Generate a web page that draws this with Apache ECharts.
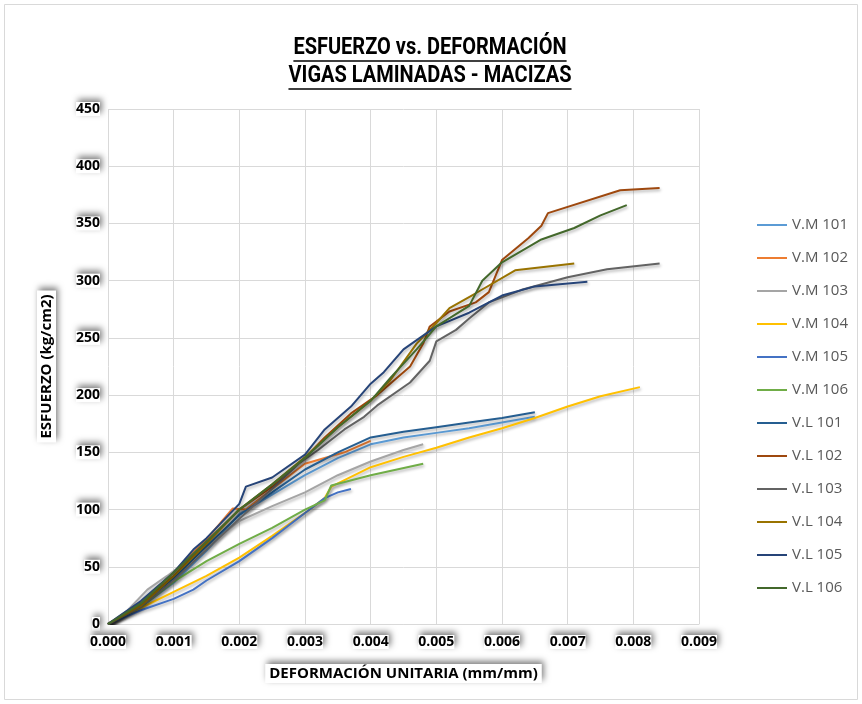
<!DOCTYPE html>
<html>
<head>
<meta charset="utf-8">
<script src="https://cdn.jsdelivr.net/npm/echarts@6/dist/echarts.min.js"></script>
<style>
html, body { margin: 0; padding: 0; background: #fff; }
#chart { width: 862px; height: 704px; }
</style>
</head>
<body>
<div id="chart"></div>
<script>
// esfuerzo (kg/cm2) vs deformacion unitaria (mm/mm)
var seriesNames = ['V.M 101', 'V.M 102', 'V.M 103', 'V.M 104', 'V.M 105', 'V.M 106',
                   'V.L 101', 'V.L 102', 'V.L 103', 'V.L 104', 'V.L 105', 'V.L 106'];
var colors = ['#5B9BD5', '#ED7D31', '#A5A5A5', '#FFC000', '#4472C4', '#70AD47',
              '#255E91', '#9E480E', '#636363', '#997300', '#264478', '#43682B'];

var vm101 = [[0,0],[0.0005,15],[0.001,36],[0.0015,64],[0.002,96],[0.0025,113],[0.003,130],[0.0035,145],[0.004,157],[0.0045,163],[0.005,167],[0.0055,171],[0.006,176],[0.0065,181]];
var vm102 = [[0,0],[0.0005,18],[0.001,45],[0.0015,74],[0.0019,101],[0.0021,100],[0.0025,118],[0.003,140],[0.0033,145],[0.0036,150],[0.004,160]];
var vm103 = [[0,0],[0.0003,12],[0.0006,30],[0.0009,42],[0.0012,55],[0.0016,72],[0.002,90],[0.0025,103],[0.003,115],[0.0035,130],[0.004,142],[0.0045,152],[0.0048,157]];
var vm104 = [[0,0],[0.0005,14],[0.001,28],[0.0015,42],[0.002,58],[0.0025,77],[0.003,97],[0.0033,110],[0.0034,120],[0.004,137],[0.0045,146],[0.005,154],[0.0055,163],[0.006,171],[0.0065,180],[0.007,190],[0.0075,199],[0.0081,207]];
var vm105 = [[0,0],[0.0005,12],[0.001,22],[0.0013,30],[0.0015,38],[0.002,55],[0.0025,75],[0.003,97],[0.0033,110],[0.0035,115],[0.0037,118]];
var vm106 = [[0,0],[0.0005,15],[0.001,37],[0.0015,55],[0.002,70],[0.0025,84],[0.003,100],[0.0033,108],[0.0034,121],[0.004,130],[0.0048,140]];
var vl101 = [[0,0],[0.0005,17],[0.001,40],[0.0015,68],[0.002,95],[0.0025,115],[0.003,135],[0.0035,150],[0.004,163],[0.0045,168],[0.005,172],[0.0055,176],[0.006,180],[0.0065,185]];
var vl102 = [[0,0],[0.0005,18],[0.001,42],[0.0015,72],[0.002,100],[0.0025,120],[0.003,145],[0.0033,163],[0.0037,184],[0.0041,200],[0.0046,225],[0.0048,245],[0.0049,260],[0.0052,273],[0.0056,281],[0.0058,290],[0.006,318],[0.0064,337],[0.0066,348],[0.0067,359],[0.0078,379],[0.0084,381]];
var vl103 = [[0,0],[0.0005,15],[0.001,38],[0.0015,65],[0.002,92],[0.0025,118],[0.0029,140],[0.0032,152],[0.0036,170],[0.0039,181],[0.0041,191],[0.0046,211],[0.0049,230],[0.005,247],[0.0053,257],[0.0055,267],[0.0058,281],[0.0063,292],[0.007,303],[0.0076,310],[0.0084,315]];
var vl104 = [[0,0],[0.0005,16],[0.001,42],[0.0015,70],[0.002,100],[0.0025,122],[0.003,146],[0.0035,172],[0.004,195],[0.0043,213],[0.0047,245],[0.005,263],[0.0052,276],[0.0056,289],[0.0062,309],[0.0071,315]];
var vl105 = [[0,0],[0.0005,20],[0.001,45],[0.0013,65],[0.0015,75],[0.002,105],[0.0021,120],[0.0025,128],[0.003,148],[0.0033,170],[0.0037,190],[0.004,210],[0.0042,220],[0.0045,240],[0.005,260],[0.0055,272],[0.006,287],[0.0065,295],[0.0073,299]];
var vl106 = [[0,0],[0.0005,18],[0.001,45],[0.0015,72],[0.002,100],[0.0025,122],[0.003,145],[0.0035,172],[0.004,195],[0.0043,215],[0.0047,240],[0.005,260],[0.0055,278],[0.0057,300],[0.006,316],[0.0066,336],[0.0071,346],[0.0075,357],[0.0079,366]];

var allData = [vm101, vm102, vm103, vm104, vm105, vm106, vl101, vl102, vl103, vl104, vl105, vl106];

var titleLines = ['ESFUERZO vs. DEFORMACIÓN', 'VIGAS LAMINADAS - MACIZAS'];
var titleFont = "bold 20px 'Roboto', sans-serif";
var lblFont = "'Open Sans', 'Liberation Sans', sans-serif";

var myChart = echarts.init(document.getElementById('chart'));

// titulo subrayado (echarts no subraya texto)
var ctx = document.createElement('canvas').getContext('2d');
ctx.font = titleFont;
var titleGraphics = [];
var titleY = [48, 76];
for (var t = 0; t < titleLines.length; t++) {
    var w = ctx.measureText(titleLines[t]).width;
    titleGraphics.push({
        type: 'text', x: 430, y: titleY[t], scaleY: 1.18,
        style: { text: titleLines[t], font: titleFont, fill: '#000', align: 'center', verticalAlign: 'middle' }
    });
    titleGraphics.push({
        type: 'line',
        shape: { x1: 430 - w / 2, y1: titleY[t] + 13, x2: 430 + w / 2, y2: titleY[t] + 13 },
        style: { stroke: '#000', lineWidth: 1.5 }
    });
}
titleGraphics.push({
    type: 'rect', shape: { x: 4.5, y: 4.5, width: 853, height: 695 },
    style: { fill: 'none', stroke: '#d9d9d9', lineWidth: 1 }, z: -1
});

var labelShadow = {
    backgroundColor: '#fff',
    shadowColor: 'rgba(0,0,0,0.5)',
    shadowBlur: 6,
    shadowOffsetX: 2,
    shadowOffsetY: -3
};

var series = [];
for (var i = 0; i < allData.length; i++) {
    series.push({
        name: seriesNames[i],
        type: 'line',
        data: allData[i],
        symbol: 'none',
        color: colors[i],
        lineStyle: {
            width: 2,
            shadowColor: 'rgba(0,0,0,0.3)',
            shadowBlur: 3,
            shadowOffsetX: 1,
            shadowOffsetY: 2
        },
        z: 2
    });
}

var option = {
    animation: false,
    graphic: titleGraphics,
    grid: { left: 108, right: 163, top: 109, bottom: 80 },
    legend: {
        orient: 'vertical',
        left: 752,
        top: 211,
        itemGap: 15,
        itemWidth: 30,
        itemHeight: 2,
        icon: 'rect',
        textStyle: { color: '#595959', fontSize: 15, fontFamily: lblFont, lineHeight: 18 }
    },
    xAxis: {
        type: 'value',
        min: 0, max: 0.009, interval: 0.001,
        name: 'DEFORMACIÓN UNITARIA (mm/mm)',
        nameLocation: 'middle',
        nameGap: 40,
        nameTextStyle: Object.assign({ color: '#000', fontWeight: 'bold', fontSize: 15, fontFamily: lblFont, padding: [2, 4] }, labelShadow),
        axisLine: { show: true, lineStyle: { color: '#d9d9d9' } },
        axisTick: { show: false },
        splitLine: { lineStyle: { color: '#d9d9d9' } },
        axisLabel: Object.assign({
            color: '#000', fontWeight: 'bold', fontSize: 14, fontFamily: lblFont, margin: 11,
            formatter: function (v) { return v.toFixed(3); }
        }, labelShadow)
    },
    yAxis: {
        type: 'value',
        min: 0, max: 450, interval: 50,
        name: 'ESFUERZO (kg/cm2)',
        nameLocation: 'middle',
        nameGap: 52,
        nameTextStyle: Object.assign({ color: '#000', fontWeight: 'bold', fontSize: 15, fontFamily: lblFont, padding: [2, 4] }, labelShadow),
        axisLine: { show: false },
        axisTick: { show: false },
        splitLine: { lineStyle: { color: '#d9d9d9' } },
        axisLabel: Object.assign({
            color: '#000', fontWeight: 'bold', fontSize: 14, fontFamily: lblFont, margin: 8
        }, labelShadow)
    },
    series: series
};

myChart.setOption(option);
</script>
</body>
</html>
